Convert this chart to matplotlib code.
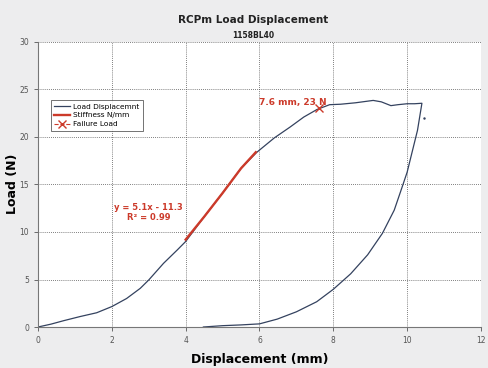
import numpy as np
import matplotlib.pyplot as plt

# load curve (loading branch, plateau, unloading branch)
disp = [0.0, 0.35, 0.69, 1.14, 1.59, 2.0, 2.4, 2.77, 3.0, 3.4, 3.77, 4.0,
        4.5, 5.0, 5.5, 5.93, 6.4, 6.83, 7.2, 7.56, 7.9, 8.2, 8.6, 9.08,
        9.3, 9.56, 9.75, 10.0, 10.2, 10.4,
        10.28, 10.0, 9.87, 9.65, 9.33, 8.93, 8.47, 8.0, 7.55, 7.0, 6.48,
        6.0, 5.5, 5.0, 4.48]
load = [0.0, 0.3, 0.66, 1.1, 1.5, 2.15, 3.0, 4.07, 4.95, 6.7, 8.1, 9.0,
        11.6, 14.1, 16.7, 18.4, 19.9, 21.05, 22.1, 22.9, 23.4, 23.45, 23.6, 23.85,
        23.7, 23.3, 23.4, 23.5, 23.5, 23.55,
        20.7, 16.3, 14.8, 12.3, 9.86, 7.6, 5.6, 3.97, 2.66, 1.6, 0.83,
        0.33, 0.22, 0.14, 0.0]

# stiffness fit region
stiff_x = [4.0, 4.5, 5.0, 5.5, 5.9]
stiff_y = [9.2, 11.6, 14.1, 16.7, 18.4]

fail_x = 7.6
fail_y = 23.0

blue = '#34425f'
red = '#cc3a2a'

fig = plt.figure(figsize=(4.89, 3.68), dpi=100)
fig.patch.set_facecolor('#ededee')
ax = fig.add_axes([0.0777, 0.1114, 0.9059, 0.7745])
ax.set_facecolor('white')

ax.plot(disp, load, color=blue, lw=0.9, label='Load Displacemnt')
ax.plot(stiff_x, stiff_y, color=red, lw=1.7, label='Stiffness N/mm')
ax.plot([fail_x], [fail_y], color=red, marker='x', ms=6, mew=1.0,
        linestyle='--', lw=0.8, label='Failure Load')
ax.plot([10.45], [22.0], color=blue, marker='.', ms=1.5)

ax.set_xlim(0, 12)
ax.set_ylim(0, 30)
ax.set_xticks(np.arange(0, 13, 2))
ax.set_yticks(np.arange(0, 31, 5))
ax.grid(True, color='#555555', linestyle=(0, (1, 1.5)), lw=0.6)
for s in ['top', 'right']:
    ax.spines[s].set_visible(False)
for s in ['left', 'bottom']:
    ax.spines[s].set_color('#777777')
    ax.spines[s].set_linewidth(0.8)
ax.tick_params(labelsize=5.5, colors='#555555', length=3, width=0.6)

ax.text(3.0, 12.6, 'y = 5.1x - 11.3', color=red, fontsize=6,
        fontweight='bold', ha='center', va='center')
ax.text(3.0, 11.5, 'R² = 0.99', color=red, fontsize=6,
        fontweight='bold', ha='center', va='center')
ax.text(6.9, 23.6, '7.6 mm, 23 N', color=red, fontsize=6.5,
        fontweight='bold', ha='center', va='center')

leg = ax.legend(loc='upper left', bbox_to_anchor=(0.02, 0.81), fontsize=5.3,
                frameon=True, fancybox=False, handlelength=2.2,
                borderpad=0.5, labelspacing=0.35, handletextpad=0.4)
leg.get_frame().set_edgecolor('#333333')
leg.get_frame().set_linewidth(0.6)

ax.set_xlabel('Displacement (mm)', fontsize=9, fontweight='bold', labelpad=6)
fig.text(0.026, 0.5, 'Load (N)', rotation=90, ha='center', va='center',
         fontsize=9, fontweight='bold')
fig.text(0.518, 0.946, 'RCPm Load Displacement', ha='center', va='center',
         fontsize=7.5, fontweight='bold', color='#222222')
fig.text(0.518, 0.903, '1158BL40', ha='center', va='center',
         fontsize=5.5, fontweight='bold', color='#222222')

fig.savefig('out.png', dpi=100, facecolor=fig.get_facecolor())
